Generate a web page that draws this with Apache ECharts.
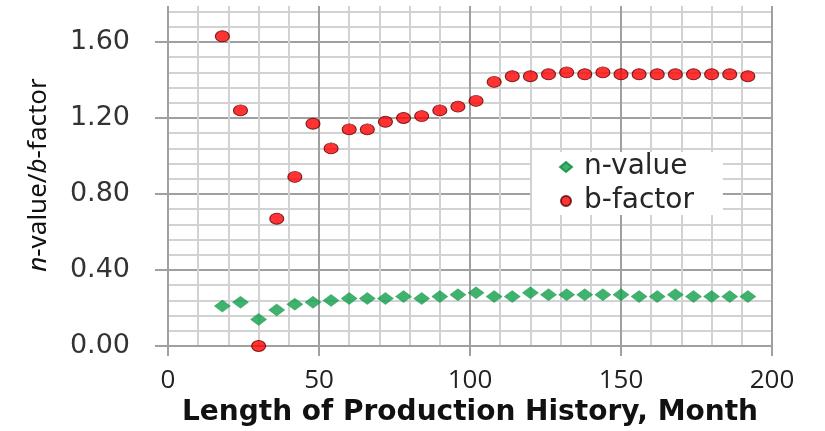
<!DOCTYPE html>
<html>
<head>
<meta charset="utf-8">
<script src="https://cdn.jsdelivr.net/npm/echarts@6/dist/echarts.min.js"></script>
<style>
html,body{margin:0;padding:0;background:#fff;}
#chart{width:825px;height:431px;}
</style>
</head>
<body>
<div id="chart"></div>
<script>
const months = [18, 24, 30, 36, 42, 48, 54, 60, 66, 72, 78, 84, 90, 96, 102, 108, 114, 120, 126, 132, 138, 144, 150, 156, 162, 168, 174, 180, 186, 192];
const nValue = [0.21, 0.23, 0.14, 0.19, 0.22, 0.23, 0.24, 0.25, 0.25, 0.25, 0.26, 0.25, 0.26, 0.27, 0.28, 0.26, 0.26, 0.28, 0.27, 0.27, 0.27, 0.27, 0.27, 0.26, 0.26, 0.27, 0.26, 0.26, 0.26, 0.26];
const bFactor = [1.63, 1.24, 0.00, 0.67, 0.89, 1.17, 1.04, 1.14, 1.14, 1.18, 1.20, 1.21, 1.24, 1.26, 1.29, 1.39, 1.42, 1.42, 1.43, 1.44, 1.43, 1.44, 1.43, 1.43, 1.43, 1.43, 1.43, 1.43, 1.43, 1.42];
const seriesNames = ['n-value', 'b-factor'];
const xTitle = 'Length of Production History, Month';

const majorColor = '#a0a0a0';
const minorColor = '#d2d2d2';

const chart = echarts.init(document.getElementById('chart'), null, {renderer: 'canvas'});
chart.setOption({
  animation: false,
  backgroundColor: '#ffffff',
  grid: {left: 168, right: 53, top: -34, bottom: 85, containLabel: false, outerBoundsMode: 'none'},
  graphic: [{
    type: 'rect', left: 150, top: 0, z: 100,
    shape: {width: 640, height: 6},
    style: {fill: '#ffffff'}
  }],
  legend: {
    orient: 'vertical',
    left: 532, top: 152,
    padding: [1, 29, 0, 27],
    backgroundColor: '#ffffff',
    itemWidth: 12, itemHeight: 10, itemGap: 6,
    textStyle: {fontFamily: 'DejaVu Sans', fontSize: 28, lineHeight: 28, color: '#262626', padding: [0, 0, 0, 7]},
    data: [
      {name: seriesNames[0], icon: 'diamond'},
      {name: seriesNames[1], icon: 'circle'}
    ]
  },
  xAxis: {
    type: 'value', min: 0, max: 200, interval: 50,
    name: xTitle, nameLocation: 'middle', nameGap: 51,
    nameTextStyle: {fontFamily: 'DejaVu Sans', fontWeight: 'bold', fontSize: 28, color: '#111'},
    axisLine: {show: true, onZero: false, lineStyle: {color: majorColor, width: 2}},
    axisTick: {show: true, length: 10, lineStyle: {color: majorColor, width: 2}},
    axisLabel: {margin: 22, fontFamily: 'Open Sans', fontSize: 26, color: '#222'},
    splitLine: {show: true, lineStyle: {color: majorColor, width: 2}},
    minorTick: {show: false, splitNumber: 5},
    minorSplitLine: {show: true, lineStyle: {color: minorColor, width: 2}}
  },
  yAxis: {
    type: 'value', min: 0, max: 2.0, interval: 0.4,
    name: '{i|n}-value/{i|b}-factor', nameLocation: 'middle', nameGap: 116, nameRotate: 90,
    nameTextStyle: {
      fontFamily: 'Noto Sans', fontSize: 26, color: '#111', padding: [0, 38, 0, 0],
      rich: {i: {fontFamily: 'Noto Sans', fontSize: 26, fontStyle: 'italic', color: '#111'}}
    },
    axisLine: {show: true, lineStyle: {color: majorColor, width: 2}},
    axisTick: {show: true, length: 13, lineStyle: {color: majorColor, width: 2}},
    axisLabel: {margin: 38, fontFamily: 'DejaVu Sans', fontSize: 27, color: '#333',
      formatter: v => v.toFixed(2)},
    splitLine: {show: true, lineStyle: {color: majorColor, width: 2}},
    minorTick: {show: false, splitNumber: 5},
    minorSplitLine: {show: true, lineStyle: {color: minorColor, width: 2}}
  },
  series: [
    {
      name: seriesNames[0], type: 'scatter', symbol: 'diamond', symbolSize: [16, 12],
      itemStyle: {color: '#0fa04a', borderColor: '#0a8a3c', borderWidth: 0.5},
      data: months.map((m, i) => [m, nValue[i]]), z: 3
    },
    {
      name: seriesNames[1], type: 'scatter', symbol: 'circle', symbolSize: [14, 11],
      itemStyle: {color: '#ff0000', borderColor: '#5a0000', borderWidth: 1},
      data: months.map((m, i) => [m, bFactor[i]]), z: 4
    }
  ]
});
</script>
</body>
</html>
